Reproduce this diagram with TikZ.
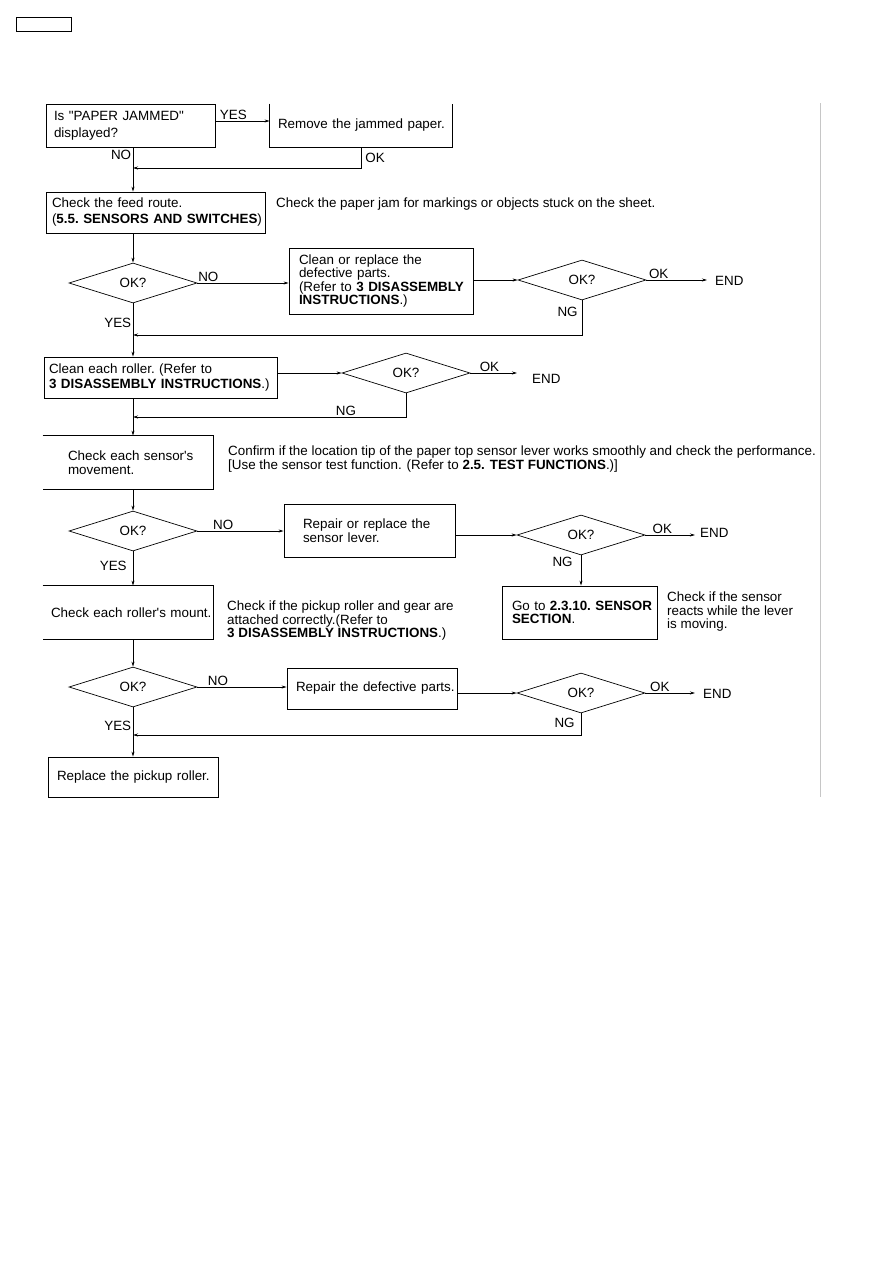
\documentclass[tikz,border=0pt]{standalone}
\usepackage{fontspec}
\setmainfont{Liberation Sans}[Ligatures=TeXOff]
\usetikzlibrary{shapes.geometric,arrows.meta}
\hyphenpenalty=10000
\exhyphenpenalty=10000

\begin{document}
\begin{tikzpicture}[x=1pt, y=-1pt,
        font=\fontsize{13.4}{13.5}\selectfont,
        box/.style={
            draw,
            rectangle,
            line width=0.8pt,
            inner xsep=0pt,
            inner ysep=0pt,
            align=left
        },
        openbox/.style={
            box,
            draw=none
        },
        check/.style={
            draw,
            diamond,
            aspect=3.2,
            inner sep=0pt,
            line width=0.7pt,
            minimum width=128pt,
            minimum height=40pt
        },
        note/.style={
            anchor=west,
            align=left,
            inner sep=0pt
        },
        tag/.style={
            inner sep=1.5pt
        },
        arrow/.style={
            -{Stealth[length=5pt, width=3pt]},
            line width=0.7pt
        }
    ]
    \useasboundingbox (0,0) rectangle (893,1263);

    % page frame
    \node[draw, line width=0.8pt, minimum width=55pt, minimum height=14pt, inner sep=0pt] (pagetag) at (43.5,24) {};
    \draw[gray!45, line width=1pt] (820,103) -- (820,797);

    % boxes
    \node[box, minimum width=169pt, minimum height=43pt, text width=153pt] (jam) at (130.5,125.5) {Is~"PAPER~JAMMED"\\[3.5pt]displayed?};
    \node[openbox, minimum width=182pt, minimum height=43pt, text width=166pt] (remove) at (361,125.5) {Remove~the~jammed~paper.};
    \node[box, minimum width=219pt, minimum height=41pt, text width=207pt] (feed) at (155.5,212.5) {Check~the~feed~route.\\[2.5pt](\textbf{5.5.~SENSORS~AND~SWITCHES})};
    \node[box, minimum width=184pt, minimum height=66pt, text width=164pt] (cleanparts) at (381,281) {Clean~or~replace~the\\defective~parts.\\(Refer~to~\textbf{3~DISASSEMBLY}\\\textbf{INSTRUCTIONS}.)};
    \node[box, minimum width=233pt, minimum height=41pt, text width=223pt] (cleanroll) at (160.5,377.5) {Clean~each~roller.~(Refer~to\\[1pt]\textbf{3~DISASSEMBLY~INSTRUCTIONS}.)};
    \node[openbox, minimum width=170pt, minimum height=53pt, text width=120pt] (sensor) at (128,462.5) {Check~each~sensor's\\movement.};
    \node[box, minimum width=171pt, minimum height=53pt, text width=133pt] (lever) at (369.5,530.5) {Repair~or~replace~the\\sensor~lever.};
    \node[box, minimum width=155pt, minimum height=53pt, text width=135pt] (goto) at (579.5,612.5) {Go~to~\textbf{2.3.10.~SENSOR}\\\textbf{SECTION}.};
    \node[openbox, minimum width=170pt, minimum height=53pt, text width=154pt] (mount) at (128,612.5) {Check~each~roller's~mount.};
    \node[box, minimum width=170pt, minimum height=41pt, text width=152pt] (defparts) at (372,688.5) {Repair~the~defective~parts.};
    \node[box, minimum width=170pt, minimum height=40pt, text width=152pt] (pickup) at (133,777) {Replace~the~pickup~roller.};

    \draw[line width=0.8pt] (remove.north west) -- (remove.south west) -- (remove.south east) -- (remove.north east);
    \draw[line width=0.8pt] (sensor.north west) -- (sensor.north east) -- (sensor.south east) -- (sensor.south west);
    \draw[line width=0.8pt] (mount.north west) -- (mount.north east) -- (mount.south east) -- (mount.south west);

    % decisions
    \node[check] (d1) at (133,283) {OK?};
    \node[check] (d2) at (582,280) {OK?};
    \node[check] (d4) at (406,373) {OK?};
    \node[check] (d6) at (133,531) {OK?};
    \node[check] (d7) at (581,535) {OK?};
    \node[check] (d8) at (133,687) {OK?};
    \node[check] (d9) at (581,693) {OK?};

    % ends and notes
    \node[note] (end1) at (715,281) {END};
    \node[note] (end2) at (532,379) {END};
    \node[note] (end3) at (700,533) {END};
    \node[note] (end4) at (703,694) {END};
    \node[note] (feednote) at (276,204) {Check the paper jam for markings or objects stuck on the sheet.};
    \node[note] (sensornote) at (228,459) {Confirm if the location tip of the paper top sensor lever works smoothly and check the performance.\\{}[Use the sensor test function. (Refer to \textbf{2.5. TEST FUNCTIONS}.)]};
    \node[note] (mountnote) at (227,621) {Check if the pickup roller and gear are\\attached correctly.(Refer to\\\textbf{3 DISASSEMBLY INSTRUCTIONS}.)};
    \node[note] (gotonote) at (667,612) {Check if the sensor\\reacts while the lever\\is moving.};

    % return points on the main line
    \coordinate (j1) at (133,168);
    \coordinate (j2) at (133,335);
    \coordinate (j3) at (133,417);
    \coordinate (j4) at (133,735);

    % connectors
    \draw[arrow] ([yshift=4.5pt]jam.east) -- ([yshift=4.5pt]jam.east -| remove.west) node[pos=0.33, above, tag] {YES};
    \draw[arrow] (jam.south -| d1) -- (feed.north -| d1) node[pos=0.18, left, tag] {NO};
    \draw[arrow] (remove.south) |- (j1) node[pos=0.25, right, inner sep=4pt] {OK};
    \draw[arrow] (feed.south -| d1) -- (d1.north);
    \draw[arrow] (d1.east) -- (d1.east -| cleanparts.west) node[pos=0.12, above, tag] {NO};
    \draw[arrow] (cleanparts.east |- d2) -- (d2.west);
    \draw[arrow, shorten >=8pt] (d2.east) -- (d2.east -| end1.west) node[pos=0.18, above, tag] {OK};
    \draw[arrow] (d2.south) |- (j2) node[pos=0.16, left, inner sep=4pt] {NG};
    \draw[arrow] (d1.south) -- (cleanroll.north -| d1) node[pos=0.37, left, tag] {YES};
    \draw[arrow] (cleanroll.east |- d4) -- (d4.west);
    \draw[arrow, shorten >=15pt] (d4.east) -- (d4.east -| end2.west) node[pos=0.31, above, tag] {OK};
    \draw[arrow] (d4.south) |- (j3) node[pos=0.61, above, tag] {NG};
    \draw[arrow] (cleanroll.south -| d1) -- (sensor.north -| d1);
    \draw[arrow] (sensor.south -| d1) -- (d6.north);
    \draw[arrow] (d6.east) -- (d6.east -| lever.west) node[pos=0.3, above, tag] {NO};
    \draw[arrow] (lever.east |- d7) -- (d7.west);
    \draw[arrow, shorten >=5pt] (d7.east) -- (d7.east -| end3.west) node[pos=0.31, above, tag] {OK};
    \draw[arrow] (d7.south) -- (goto.north -| d7) node[pos=0.2, left, inner sep=8pt] {NG};
    \draw[arrow] (d6.south) -- (mount.north -| d6) node[pos=0.41, left, inner sep=6pt] {YES};
    \draw[arrow] (mount.south -| d8) -- (d8.north);
    \draw[arrow] (d8.east) -- (d8.east -| defparts.west) node[pos=0.23, above, tag] {NO};
    \draw[arrow] (defparts.east |- d9) -- (d9.west);
    \draw[arrow, shorten >=8pt] (d9.east) -- (d9.east -| end4.west) node[pos=0.25, above, tag] {OK};
    \draw[arrow] (d9.south) |- (j4) node[pos=0.22, left, inner sep=6pt] {NG};
    \draw[arrow] (d8.south) -- (pickup.north) node[pos=0.38, left, tag] {YES};

\end{tikzpicture}
\end{document}
